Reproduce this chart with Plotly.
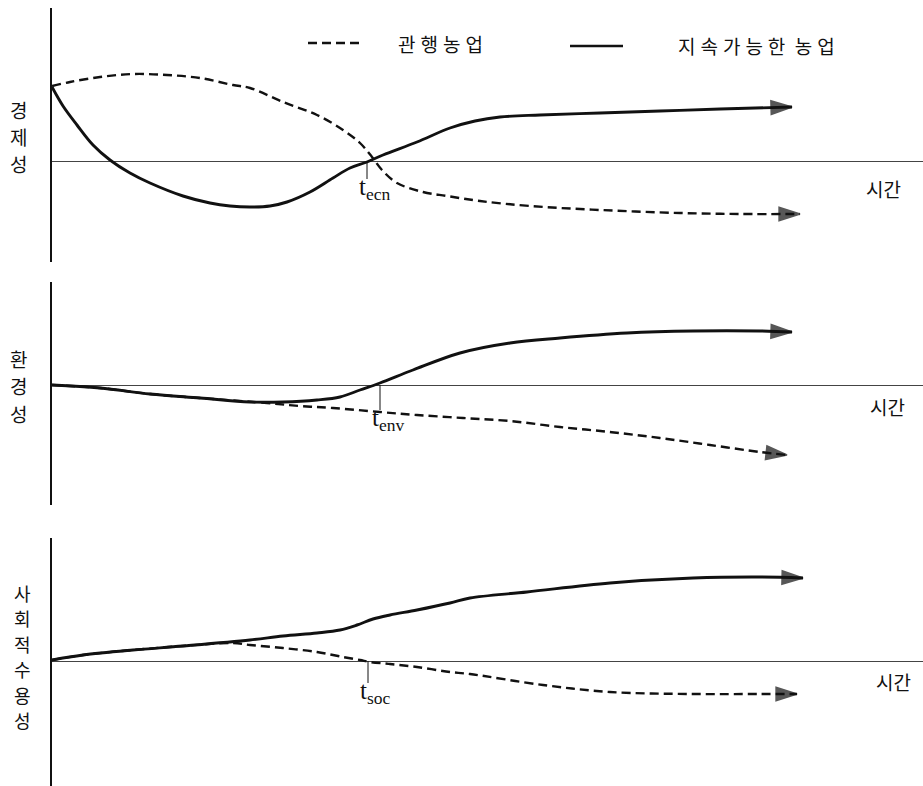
"""관행농업과 지속가능한 농업의 경제성·환경성·사회적 수용성 비교 (개념도)."""

import plotly.graph_objects as go

W, H = 923, 786

# 시간(가로축) / 성과(세로축, 기준선 = 0) — 그림에서 읽은 값
ECON_SUS_X = [0, 1.1, 2.5, 4.1, 5.8, 7.8, 9.8, 13.1, 15.8, 17.8, 19.8, 21.8, 23.5, 25.8,
              28.1, 29.8, 31.5, 33.1, 36.5, 39.8, 42.3, 44.8, 48.8, 54.8, 60.8, 66.8, 74.0]
ECON_SUS_Y = [7.4, 5.5, 3.6, 1.6, 0.1, -1.2, -2.2, -3.5, -4.2, -4.5, -4.6, -4.5, -4.1, -3.1,
              -1.7, -0.7, -0.1, 0.6, 1.9, 3.3, 4.0, 4.4, 4.6, 4.8, 5.0, 5.2, 5.4]
ECON_CON_X = [0, 1.8, 4.8, 8.1, 11.5, 14.8, 18.1, 19.8, 23.1, 26.5, 29.1, 30.8, 32.0,
              33.0, 34.5, 37.1, 39.5, 42.8, 47.8, 54.8, 62.8, 68.8, 74.8]
ECON_CON_Y = [7.5, 7.9, 8.4, 8.7, 8.6, 8.3, 7.6, 7.3, 5.9, 4.6, 3.1, 1.8, 0.4,
              -0.9, -2.2, -3.1, -3.5, -4.0, -4.5, -4.9, -5.2, -5.3, -5.3]

ENV_SUS_X = [0, 4.8, 9.8, 14.8, 19.8, 23.1, 26.5, 28.8, 30.8, 32.8, 36.1, 40.8, 45.8,
             50.8, 57.5, 64.1, 70.8, 74.0]
ENV_SUS_Y = [0, -0.3, -0.9, -1.3, -1.7, -1.7, -1.5, -1.2, -0.5, 0.2, 1.5, 3.2, 4.2,
             4.7, 5.2, 5.4, 5.4, 5.3]
ENV_CON_X = [0, 4.8, 9.8, 14.8, 21.5, 24.8, 28.1, 32.8, 36.5, 41.1, 45.8, 50.8, 55.8,
             60.8, 65.8, 70.8, 73.5]
ENV_CON_Y = [0, -0.3, -0.9, -1.3, -1.8, -2.1, -2.3, -2.7, -3.0, -3.3, -3.6, -4.2, -4.7,
             -5.3, -6.0, -6.7, -7.0]

SOC_SUS_X = [0, 3.1, 8.1, 13.1, 19.8, 23.1, 26.5, 28.8, 30.5, 32.1, 33.8, 36.5, 39.8,
             41.8, 47.5, 55.8, 64.1, 70.8, 75.1]
SOC_SUS_Y = [0.1, 0.6, 1.1, 1.5, 2.1, 2.5, 2.8, 3.1, 3.6, 4.2, 4.6, 5.1, 5.8,
             6.3, 6.9, 7.8, 8.3, 8.4, 8.3]
SOC_CON_X = [0, 3.1, 8.1, 13.1, 18.1, 19.8, 23.1, 26.5, 29.1, 30.8, 31.8, 33.8, 36.5,
             39.8, 41.8, 49.1, 55.8, 64.1, 70.8, 74.5]
SOC_CON_Y = [0.1, 0.6, 1.1, 1.5, 1.8, 1.6, 1.3, 0.9, 0.4, 0.1, -0.1, -0.3, -0.6,
             -1.1, -1.3, -2.4, -3.1, -3.3, -3.3, -3.3]

CROSS_T = [31.5, 32.8, 31.6]
CROSS_TAG = ["ecn", "env", "soc"]
TICK_LEN = [1.8, 2.5, 2.2]
PANEL_TITLES = ["경제성", "환경성", "사회적수용성"]
TIME_LABEL = "시간"
LEGEND_CONV = "관행농업"
LEGEND_SUST = ["지속가능한", "농업"]

KFONT = "Noto Sans CJK KR"
INK = "#111111"
DASH = "9px,5px"
GAP = "\u2009\u200a"

# 패널 배치 (픽셀): 세로축 위/아래, 기준선 높이
PANELS = [(8, 262, 161), (282, 505, 385), (538, 786, 661)]
AXIS_X0 = 52
TIME_POS = [(903, 27), (907, 21), (913, 20)]
# 세로 제목: 글자 중심 x, 첫 글자 y, 글자 간격, 글자 크기
TITLE_POS = [(18, 110, 26.5, 19), (18, 358, 27.5, 19), (22, 593, 25.4, 18)]


def px(x):
    return x / W


def py(y):
    return 1 - y / H


def arrow_sizes(n, size=22):
    return [0] * (n - 1) + [size]


series = [
    (ECON_SUS_X, ECON_SUS_Y, ECON_CON_X, ECON_CON_Y),
    (ENV_SUS_X, ENV_SUS_Y, ENV_CON_X, ENV_CON_Y),
    (SOC_SUS_X, SOC_SUS_Y, SOC_CON_X, SOC_CON_Y),
]

fig = go.Figure()
shapes, annotations = [], []

for i, (sx, sy, cx, cy) in enumerate(series):
    ax = "" if i == 0 else str(i + 1)
    for xs, ys, dash, width in ((cx, cy, DASH, 2.4), (sx, sy, "solid", 2.9)):
        fig.add_trace(go.Scatter(
            x=xs, y=ys, xaxis="x" + ax, yaxis="y" + ax,
            mode="lines+markers",
            line=dict(color=INK, width=width, dash=dash, shape="spline", smoothing=1.0),
            marker=dict(symbol="arrow", angleref="previous", color=INK,
                        size=arrow_sizes(len(xs)), line=dict(color=INK, width=1.5)),
            showlegend=False, hoverinfo="skip",
        ))

    top, bottom, zero = PANELS[i]
    x_max = (W - AXIS_X0) / 10
    fig.update_layout(**{
        "xaxis" + ax: dict(domain=[px(AXIS_X0), 1], range=[0, x_max], visible=False,
                           anchor="y" + ax),
        "yaxis" + ax: dict(domain=[py(bottom), py(top)],
                           range=[-(bottom - zero) / 10, (zero - top) / 10],
                           anchor="x" + ax, showline=True, linecolor=INK, linewidth=1.5,
                           showticklabels=False, ticks="", showgrid=False,
                           zeroline=True, zerolinecolor="#444444", zerolinewidth=1),
    })

    # 교차 시점 표시
    t = CROSS_T[i]
    shapes.append(dict(type="line", xref="x" + ax, yref="y" + ax,
                       x0=t, x1=t, y0=0, y1=-TICK_LEN[i],
                       line=dict(color=INK, width=1)))
    annotations.append(dict(
        xref="x" + ax, yref="y" + ax, x=t - 1.0, y=-TICK_LEN[i],
        xanchor="left", yanchor="top", yshift=8, showarrow=False,
        text=f"t<sub>{CROSS_TAG[i]}</sub>",
        font=dict(family="Liberation Serif", size=25, color=INK),
    ))

    # 시간 라벨
    tx, dy = TIME_POS[i]
    annotations.append(dict(
        xref="paper", yref="paper", x=px(tx), y=py(zero + dy),
        xanchor="right", yanchor="middle", showarrow=False, text=TIME_LABEL,
        font=dict(family=KFONT, size=19, color=INK),
    ))

    # 세로 제목 (글자별)
    cx_t, y0, step, fsize = TITLE_POS[i]
    for k, ch in enumerate(PANEL_TITLES[i]):
        annotations.append(dict(
            xref="paper", yref="paper", x=px(cx_t), y=py(y0 + k * step),
            xanchor="center", yanchor="middle", showarrow=False, text=ch,
            font=dict(family=KFONT, size=fsize, color=INK),
        ))

# 범례
shapes.append(dict(type="line", xref="paper", yref="paper",
                   x0=px(308), x1=px(363), y0=py(43), y1=py(43),
                   line=dict(color=INK, width=2.4, dash=DASH)))
shapes.append(dict(type="line", xref="paper", yref="paper",
                   x0=px(570), x1=px(623), y0=py(46), y1=py(46),
                   line=dict(color=INK, width=2.4)))
annotations.append(dict(
    xref="paper", yref="paper", x=px(396), y=py(44), xanchor="left", yanchor="middle",
    showarrow=False, text=GAP.join(LEGEND_CONV),
    font=dict(family=KFONT, size=19, color=INK)))
annotations.append(dict(
    xref="paper", yref="paper", x=px(676), y=py(45), xanchor="left", yanchor="middle",
    showarrow=False, text="\u2002".join(GAP.join(w) for w in LEGEND_SUST),
    font=dict(family=KFONT, size=19, color=INK)))

fig.update_layout(
    width=W, height=H,
    margin=dict(l=0, r=0, t=0, b=0),
    paper_bgcolor="white", plot_bgcolor="white",
    shapes=shapes, annotations=annotations,
    showlegend=False,
)

fig.write_html("out.html", config={"displayModeBar": False},
               post_script="document.body.style.margin = '0';")
